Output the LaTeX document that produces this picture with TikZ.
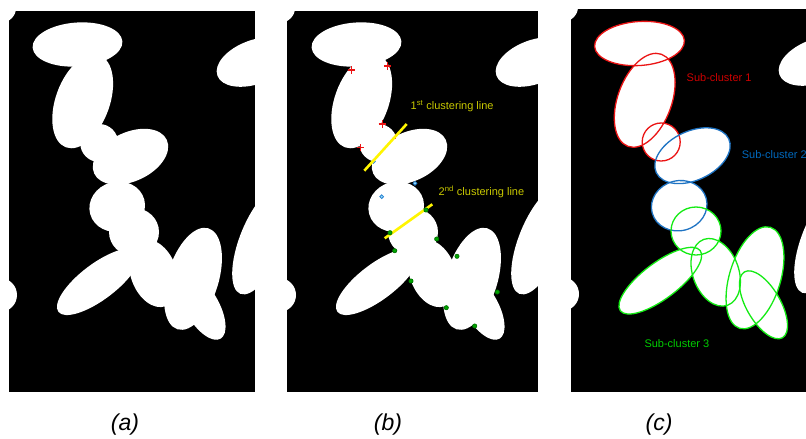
\documentclass[tikz,border=0pt]{standalone}
\usepackage{fontspec}
\setmainfont{Liberation Sans}
\definecolor{cred}{RGB}{235,20,20}
\definecolor{cblue}{RGB}{30,115,195}
\definecolor{cgreen}{RGB}{20,235,20}
\definecolor{tred}{RGB}{205,0,0}
\definecolor{tblue}{RGB}{0,105,190}
\definecolor{tgreen}{RGB}{0,205,0}
\definecolor{tyel}{RGB}{200,200,0}
\definecolor{lyel}{RGB}{255,245,0}
\definecolor{dblue}{RGB}{40,130,210}
\definecolor{dgreen}{RGB}{0,165,0}
\newcommand\myell[6]{\path[#1,shift={(#2,#3)},rotate=#6] (0,0) ellipse [x radius=#4pt,y radius=#5pt];}
\newcommand\mainblobs[1]{%
  \myell{#1}{77.5}{44.5}{45}{22}{4}
  \myell{#1}{82.7}{101.3}{27}{49}{-20}
  \myell{#1}{99.2}{143}{19}{19}{0}
  \myell{#1}{130.5}{156.7}{40}{24.5}{25}
  \myell{#1}{117.2}{206.7}{28}{25}{15}
  \myell{#1}{134}{232}{25}{24}{0}
  \myell{#1}{98.3}{281.7}{50}{18}{37}
  \myell{#1}{153.7}{273.3}{23}{35}{20}
  \myell{#1}{193}{278.8}{25.6}{52.8}{-17}
  \myell{#1}{201.5}{305.8}{17}{38}{30}
}
\newcommand\sideblobs{%
  \myell{fill=white}{255}{62}{40}{22}{20}
  \myell{fill=white}{262}{240}{22}{58}{-22}
  \myell{fill=white}{0}{8}{16}{15}{0}
  \myell{fill=white}{0}{295}{17}{17}{0}
}
\newcommand\plusmark[2]{\draw[cred,line width=1.4pt] (#1-3.6,#2) -- (#1+3.6,#2) (#1,#2-3.6) -- (#1,#2+3.6);}
\newcommand\bdot[2]{\draw[dblue,fill=cyan!40!white,line width=0.8pt] (#1,#2) circle [radius=1.9pt];}
\newcommand\gdot[2]{\draw[dgreen!70!black,fill=dgreen,line width=0.7pt] (#1,#2) circle [radius=2.1pt];}
\begin{document}
\begin{tikzpicture}[x=1pt,y=-1pt,
  lbl/.style={font=\fontsize{11}{13}\selectfont,inner sep=0pt},
  captxt/.style={font=\fontsize{23}{26}\selectfont\itshape,inner sep=0pt,anchor=base}]
\useasboundingbox[fill=white] (0,0) rectangle (806,439);
% panel (a)
\begin{scope}
  \clip (9,11) rectangle (255,392);
  \fill[black] (9,11) rectangle (255,392);
  \mainblobs{fill=white}
  \sideblobs
\end{scope}
% panel (b)
\begin{scope}
  \clip (287,11) rectangle (538,392);
  \fill[black] (287,11) rectangle (538,392);
  \begin{scope}[shift={(279,0)}]
    \mainblobs{fill=white}
    \sideblobs
  \end{scope}
\end{scope}
\plusmark{351.5}{70}
\plusmark{387.7}{66}
\plusmark{382.3}{124}
\plusmark{360.7}{147.7}
\draw[cred,line width=1pt] (395.7,133.5) -- (395.7,138.5);
\bdot{373.5}{161.5}
\bdot{415}{183.3}
\bdot{381.7}{196.7}
\draw[lyel,line width=2.6pt] (364.3,170.7) -- (406.7,124);
\draw[lyel,line width=2.6pt] (384.7,238.3) -- (432.3,204.3);
\gdot{426}{210}
\gdot{390}{232.7}
\gdot{436.7}{239}
\gdot{394.7}{250.7}
\gdot{457}{256.3}
\gdot{411}{281}
\gdot{497.3}{292}
\gdot{446.3}{307.7}
\gdot{474.7}{326}
\node[lbl,text=tyel,anchor=base west] (l1) at (410.5,109.3) {1\textsuperscript{st} clustering line};
\node[lbl,text=tyel,anchor=base west] (l2) at (438.5,195) {2\textsuperscript{nd} clustering line};
% panel (c)
\begin{scope}
  \clip (571,9) rectangle (806,392);
  \fill[black] (571,9) rectangle (806,392);
  \begin{scope}[shift={(562,-1)}]
    \mainblobs{fill=white}
    \sideblobs
    \myell{draw=cred,line width=1.3pt}{77.5}{44.5}{45}{22}{4}
    \myell{draw=cred,line width=1.3pt}{82.7}{101.3}{27}{49}{-20}
    \myell{draw=cred,line width=1.3pt}{99.2}{143}{19}{19}{0}
    \myell{draw=cblue,line width=1.3pt}{130.5}{156.7}{40}{24.5}{25}
    \myell{draw=cblue,line width=1.3pt}{117.2}{206.7}{28}{25}{15}
    \myell{draw=cgreen,line width=1.3pt}{134}{232}{25}{24}{0}
    \myell{draw=cgreen,line width=1.3pt}{98.3}{281.7}{50}{18}{37}
    \myell{draw=cgreen,line width=1.3pt}{153.7}{273.3}{23}{35}{20}
    \myell{draw=cgreen,line width=1.3pt}{193}{278.8}{25.6}{52.8}{-17}
    \myell{draw=cgreen,line width=1.3pt}{201.5}{305.8}{17}{38}{30}
  \end{scope}
  \node[lbl,text=tblue,anchor=base west] (s2) at (741.7,158) {Sub-cluster 2};
\end{scope}
\node[lbl,text=tred,anchor=base west] (s1) at (686.5,81.5) {Sub-cluster 1};
\node[lbl,text=tgreen,anchor=base west] (s3) at (644.3,347.5) {Sub-cluster 3};
% captions
\node[captxt] (ca) at (125,430) {(a)};
\node[captxt] (cb) at (388,430) {(b)};
\node[captxt] (cc) at (659,430) {(c)};
\end{tikzpicture}
\end{document}
